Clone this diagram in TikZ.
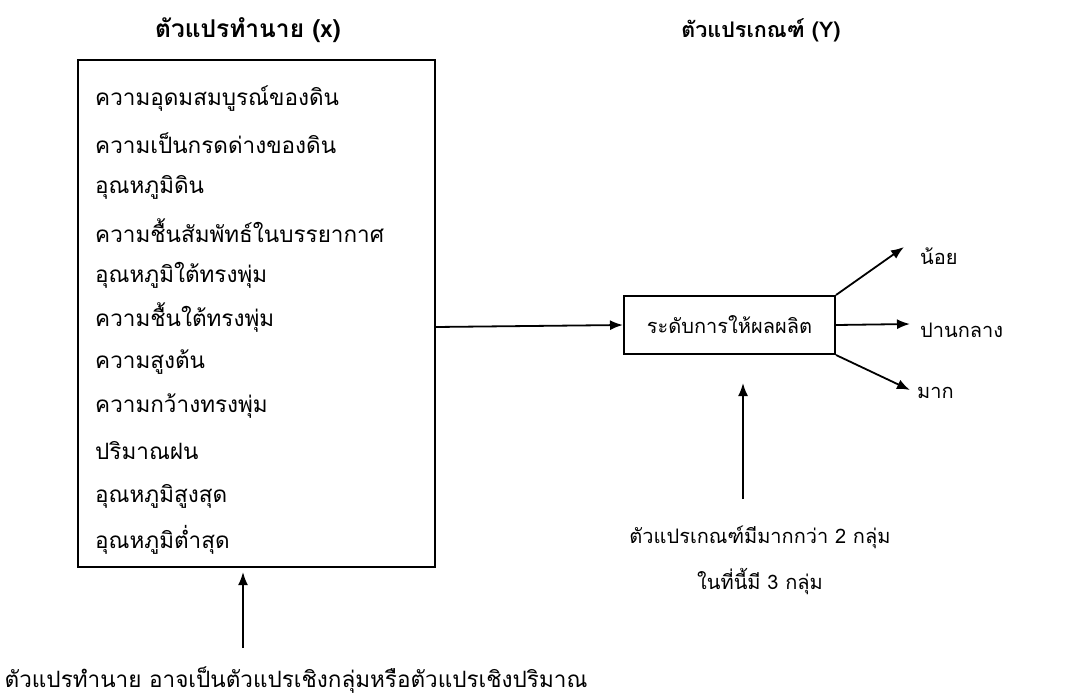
\documentclass[tikz,border=0pt]{standalone}
\usepackage{fontspec}
\newfontfamily\thaifont[Script=Thai]{Loma}
\usetikzlibrary{arrows.meta}
\begin{document}
\begin{tikzpicture}[x=1pt,y=-1pt,
  every node/.style={font=\thaifont\fontsize{22.5}{26}\selectfont, inner sep=0pt},
  small/.style={font=\thaifont\fontsize{20}{24}\selectfont},
  ttl/.style={font=\thaifont\bfseries\fontsize{24.5}{28}\selectfont},
  ttlb/.style={font=\thaifont\bfseries\fontsize{21.5}{26}\selectfont},
  item/.style={anchor=west},
  boxline/.style={draw, line width=2pt},
  arr/.style={line width=1.8pt, -{Latex[length=13pt,width=10pt]}}]
\useasboundingbox (0,0) rectangle (1086,699);
\node[ttl] (t1) at (248,30) {ตัวแปรทำนาย (x)};
\node[ttlb] (t2) at (761,30) {ตัวแปรเกณฑ์ (Y)};
\draw[boxline] (78,60) rectangle (435,567);
\coordinate (lb) at (435,327);
\node[item] (i1) at (95,99) {ความอุดมสมบูรณ์ของดิน};
\node[item] (i2) at (95,143) {ความเป็นกรดด่างของดิน};
\node[item] (i3) at (95,187) {อุณหภูมิดิน};
\node[item] (i4) at (95,231) {ความชื้นสัมพัทธ์ในบรรยากาศ};
\node[item] (i5) at (95,275) {อุณหภูมิใต้ทรงพุ่ม};
\node[item] (i6) at (95,318) {ความชื้นใต้ทรงพุ่ม};
\node[item] (i7) at (95,362) {ความสูงต้น};
\node[item] (i8) at (95,406) {ความกว้างทรงพุ่ม};
\node[item] (i9) at (95,451) {ปริมาณฝน};
\node[item] (i10) at (95,496) {อุณหภูมิสูงสุด};
\node[item] (i11) at (95,540) {อุณหภูมิต่ำสุด};
\node[small, draw, line width=2pt, minimum width=211pt, minimum height=58pt] (mid) at (729.5,325) {ระดับการให้ผลผลิต};
\node[small, anchor=west] (n1) at (920,256) {น้อย};
\node[small, anchor=west] (n2) at (920,330) {ปานกลาง};
\node[small, anchor=west] (n3) at (917,393) {มาก};
\node (lab) at (296,680) {ตัวแปรทำนาย อาจเป็นตัวแปรเชิงกลุ่มหรือตัวแปรเชิงปริมาณ};
\node[small] (lab2) at (760,537) {ตัวแปรเกณฑ์มีมากกว่า 2 กลุ่ม};
\node[small] (lab3) at (760,582) {ในที่นี้มี 3 กลุ่ม};
\draw[arr] (lb) -- (mid.west);
\coordinate (a1) at (243,648);
\coordinate (a1t) at (243,572);
\draw[arr] (a1) -- (a1t);
\coordinate (a2) at (743,499);
\coordinate (a2t) at (743,383);
\draw[arr] (a2) -- (a2t);
\coordinate (o1) at (904,247);
\coordinate (o2) at (910,324);
\coordinate (o3) at (910,390);
\draw[arr] (mid.north east) -- (o1);
\draw[arr] (mid.east) -- (o2);
\draw[arr] (mid.south east) -- (o3);
\end{tikzpicture}
\end{document}
